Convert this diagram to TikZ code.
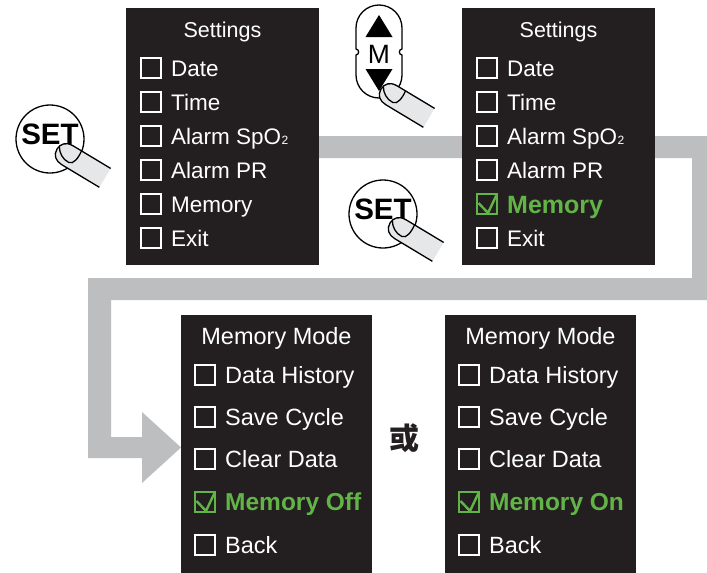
\documentclass[tikz,border=0pt]{standalone}
\usepackage{fontspec}
\setmainfont{Liberation Sans}
\newfontfamily\cjkfont{Noto Sans CJK SC}
\definecolor{panelbg}{HTML}{231F20}
\definecolor{bandgray}{HTML}{BCBEC0}
\definecolor{skin}{HTML}{E6E7E8}
\definecolor{okgreen}{HTML}{62B446}
\tikzset{
  panelbox/.style={fill=panelbg, draw=none, anchor=north west, inner sep=0pt, outer sep=0pt},
  boxline/.style={draw=white, line width=2.2pt},
  greenbox/.style={draw=okgreen, line width=2.2pt},
  greencheck/.style={draw=okgreen, line width=2.4pt, line join=miter},
  toptext/.style={anchor=base west, text=white, inner sep=0pt, font=\fontsize{22.5}{22.5}\selectfont},
  bottext/.style={anchor=base west, text=white, inner sep=0pt, font=\fontsize{23.5}{23.5}\selectfont},
  topgreen/.style={anchor=base west, text=okgreen, inner sep=0pt, font=\fontsize{25}{25}\selectfont\bfseries},
  botgreen/.style={anchor=base west, text=okgreen, inner sep=0pt, font=\fontsize{24.5}{24.5}\selectfont\bfseries},
  titletext/.style={anchor=base, text=white, inner sep=0pt},
  btnline/.style={draw=black, line width=1.3pt},
  setlabel/.style={anchor=base, inner sep=0pt, font=\fontsize{29.5}{29.5}\selectfont\bfseries},
  finger/.pic={
    \fill[skin] (12,-11) -- (56,-11) -- (56,11) -- (12,11) .. controls (5,11) and (0,7) .. (0,0) .. controls (0,-6) and (4,-11) .. (12,-11) -- cycle;
    \draw[btnline, line join=round] (56,-11) -- (12,-11) .. controls (4,-11) and (0,-6) .. (0,0) .. controls (0,7) and (5,11) .. (12,11) -- (56,11);
    \draw[btnline, line cap=round] (22,-11) .. controls (23,-3) and (22,5) .. (17,5.5) .. controls (10,6) and (4,2) .. (1,-3);
  }
}
\newcommand\myunchecked[2]{\draw[boxline] (#1,#2-10) rectangle ++(20,20);}
\newcommand\mychecked[2]{\draw[greenbox] (#1,#2-10) rectangle ++(20,20);
  \draw[greencheck] (#1+1.5,#2-1) -- (#1+11,#2+9) -- (#1+20,#2-10);}
\begin{document}
\begin{tikzpicture}[x=1pt,y=-1pt]
\useasboundingbox (0,0) rectangle (707,573);
\fill[white] (0,0) rectangle (707,573);

% gray flow band with arrow head
\fill[bandgray] (300,136) -- (707,136) -- (707,300) -- (111,300) -- (111,437) -- (142,437) -- (142,412)
  -- (181,447.5) -- (142,483) -- (142,458) -- (88,458) -- (88,278) -- (692,278) -- (692,158) -- (300,158) -- cycle;

% ---------- panel 1 : Settings ----------
\node[panelbox, minimum width=193pt, minimum height=257pt] (p1) at (126,8) {};
\node[titletext, font=\fontsize{21.5}{21.5}\selectfont] (p1t) at (222.5,37.7) {Settings};
\myunchecked{141}{68}  \node[toptext] (p1a) at (171,76) {Date};
\myunchecked{141}{102} \node[toptext] (p1b) at (171,110) {Time};
\myunchecked{141}{136} \node[toptext] (p1c) at (171,144) {Alarm SpO\kern0.5pt{\fontsize{12}{12}\selectfont 2}};
\myunchecked{141}{170} \node[toptext] (p1d) at (171,178) {Alarm PR};
\myunchecked{141}{204} \node[toptext] (p1e) at (171,212) {Memory};
\myunchecked{141}{238} \node[toptext] (p1f) at (171,246) {Exit};

% ---------- panel 2 : Settings (Memory selected) ----------
\node[panelbox, minimum width=193pt, minimum height=257pt] (p2) at (462,8) {};
\node[titletext, font=\fontsize{21.5}{21.5}\selectfont] (p2t) at (558.5,37.7) {Settings};
\myunchecked{477}{68}  \node[toptext] (p2a) at (507,76) {Date};
\myunchecked{477}{102} \node[toptext] (p2b) at (507,110) {Time};
\myunchecked{477}{136} \node[toptext] (p2c) at (507,144) {Alarm SpO\kern0.5pt{\fontsize{12}{12}\selectfont 2}};
\myunchecked{477}{170} \node[toptext] (p2d) at (507,178) {Alarm PR};
\mychecked{477}{204}   \node[topgreen] (p2e) at (507,213) {Memory};
\myunchecked{477}{238} \node[toptext] (p2f) at (507,246) {Exit};

% ---------- panel 3 : Memory Mode (Off) ----------
\node[panelbox, minimum width=191pt, minimum height=258pt] (p3) at (181,315) {};
\node[titletext, font=\fontsize{23.5}{23.5}\selectfont] (p3t) at (276.5,344.4) {Memory Mode};
\myunchecked{195}{375} \node[bottext] (p3a) at (225,383.4) {Data History};
\myunchecked{195}{417} \node[bottext] (p3b) at (225,425.4) {Save Cycle};
\myunchecked{195}{459} \node[bottext] (p3c) at (225,467.4) {Clear Data};
\mychecked{195}{502}   \node[botgreen] (p3d) at (225,510.8) {Memory Off};
\myunchecked{195}{545} \node[bottext] (p3e) at (225,553.4) {Back};

% ---------- panel 4 : Memory Mode (On) ----------
\node[panelbox, minimum width=191pt, minimum height=258pt] (p4) at (445,315) {};
\node[titletext, font=\fontsize{23.5}{23.5}\selectfont] (p4t) at (540.5,344.4) {Memory Mode};
\myunchecked{459}{375} \node[bottext] (p4a) at (489,383.4) {Data History};
\myunchecked{459}{417} \node[bottext] (p4b) at (489,425.4) {Save Cycle};
\myunchecked{459}{459} \node[bottext] (p4c) at (489,467.4) {Clear Data};
\mychecked{459}{502}   \node[botgreen] (p4d) at (489,510.8) {Memory On};
\myunchecked{459}{545} \node[bottext] (p4e) at (489,553.4) {Back};

% "or"
\node[inner sep=0pt, text=panelbg, font=\cjkfont\bfseries\fontsize{30}{30}\selectfont] (orlabel) at (404.5,438.5) {或};

% ---------- SET button 1 ----------
\node[circle, btnline, fill=white, minimum size=68pt, inner sep=0pt] (set1) at (50,139) {};
\node[setlabel] (set1t) at (50,144.5) {SET};
\pic[rotate=-31] at (57,149) {finger};

% ---------- SET button 2 ----------
\node[circle, btnline, fill=white, minimum size=68pt, inner sep=0pt] (set2) at (383,214) {};
\node[setlabel] (set2t) at (383,219.5) {SET};
\pic[rotate=-31] at (390,223) {finger};

% ---------- M button ----------
\draw[btnline, fill=white] (356,28) .. controls (356,15.3) and (366.3,5) .. (379,5)
  .. controls (391.7,5) and (402,15.3) .. (402,28) -- (402,49)
  .. controls (398.5,49.5) and (398.5,54.5) .. (402,55) -- (402,75)
  .. controls (402,87.7) and (391.7,98) .. (379,98)
  .. controls (366.3,98) and (356,87.7) .. (356,75) -- (356,55)
  .. controls (359.5,54.5) and (359.5,49.5) .. (356,49) -- cycle;
\fill[black] (379,15) -- (392.5,37) -- (365.5,37) -- cycle;
\fill[black] (365.5,69) -- (392.5,69) -- (379,91) -- cycle;
\node[anchor=base, inner sep=0pt, font=\fontsize{26.5}{26.5}\selectfont] (mlabel) at (379,63.3) {M};
\pic[rotate=-31] at (381,89) {finger};
\end{tikzpicture}
\end{document}
